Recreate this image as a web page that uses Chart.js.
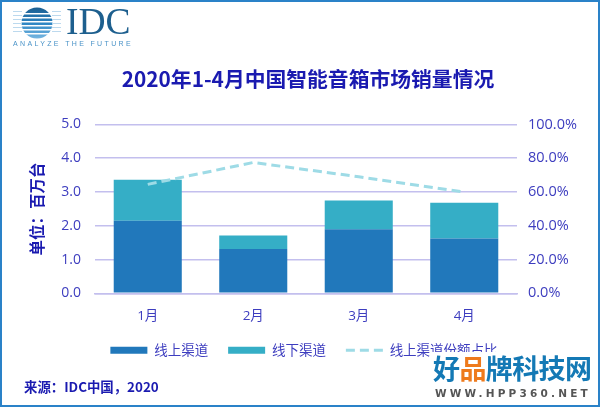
<!DOCTYPE html>
<html><head><meta charset="utf-8">
<style>html,body{margin:0;padding:0;background:#fff}#w{position:relative;width:600px;height:407px}</style>
<script src="https://cdn.jsdelivr.net/npm/chart.js@4"></script>
</head><body><div id="w"><canvas id="c" width="600" height="407"></canvas></div>
<script>
const categories = ['1月','2月','3月','4月'];
const online = [2.15,1.31,1.90,1.62];
const offline = [1.21,0.40,0.85,1.06];
const share = [64.5,77.5,69,60];
const seriesNames = ['线上渠道','线下渠道','线上渠道份额占比'];
const leftTicks = [0,1,2,3,4,5];
const titleText = '2020年1-4月中国智能音箱市场销量情况';
const yTitle = '单位：百万台';
const sourceText = '来源：IDC中国，2020';
const C1='#2178bb',C2='#35aec6',C3='#9edbe6',TXT='#3d3dbf',DARK='#1a1ab0',GRID='#c3bfee';
const FF='"Open Sans","Noto Sans CJK SC",sans-serif';
const CJK='"Noto Sans CJK SC",sans-serif';

const overlay={id:'overlay',
 afterLayout(ch){ch.legend.left-=4;ch.legend.right-=4;ch.legend.top-=8;ch.legend.bottom-=8;},
 afterDraw(ch){
  const x=ch.ctx;x.save();
  x.fillStyle=DARK;x.font='bold 13.4px '+CJK;x.textBaseline='middle';x.textAlign='left';
  x.fillText(sourceText,24,387);
  x.save();x.beginPath();x.arc(37,23,15.5,0,Math.PI*2);x.clip();
  const g=x.createLinearGradient(0,8,0,39);g.addColorStop(0,'#1c5f92');g.addColorStop(.5,'#2f86c4');g.addColorStop(1,'#79b8e2');
  x.fillStyle=g;x.fillRect(20,7,34,32);x.restore();
  x.fillStyle='#fff';[13,17,21,25,29,33].forEach(y=>x.fillRect(13,y,48,1.5));
  x.fillStyle='#bcd9ee';[11,15,19,23,27,31].forEach(y=>{x.fillRect(13,y,9,1);x.fillRect(52,y,9,1);});
  x.fillStyle='#1d5f8e';x.font='37.5px "Liberation Serif",serif';x.textBaseline='alphabetic';
  x.fillText('IDC',66,34);
  x.fillStyle='#4a93c8';x.font='7px "Liberation Sans",sans-serif';x.letterSpacing='2.35px';
  x.fillText('ANALYZE THE FUTURE',13,46);x.letterSpacing='0px';
  x.fillStyle='#fff';x.fillRect(430,352,168,53);
  x.font='bold 27px '+CJK;x.textBaseline='middle';x.textAlign='left';
  '好品牌科技网'.split('').forEach((s,i)=>{x.fillStyle=i===1?'#ee7a1c':'#1479b5';x.fillText(s,433+i*26.4,369);});
  x.fillStyle='#555';x.font='bold 10.5px "DejaVu Sans",sans-serif';x.letterSpacing='3.2px';
  x.fillText('WWW.HPP360.NET',435,394);x.letterSpacing='0px';
  x.strokeStyle='#2a82c8';x.lineWidth=2;x.strokeRect(1,1,598,405);
  x.restore();
}};

new Chart(document.getElementById('c'),{
  type:'bar',
  data:{labels:categories,datasets:[
    {label:seriesNames[0],data:online,backgroundColor:C1,stack:'s',yAxisID:'y',order:2,barPercentage:.645,categoryPercentage:1},
    {label:seriesNames[1],data:offline,backgroundColor:C2,stack:'s',yAxisID:'y',order:2,barPercentage:.645,categoryPercentage:1},
    {type:'line',label:seriesNames[2],data:share,borderColor:C3,borderWidth:3,borderDash:[9,5],pointRadius:0,tension:0,fill:false,yAxisID:'y1',order:1}
  ]},
  options:{
    responsive:false,animation:false,
    layout:{padding:{left:16,right:0,top:66.5,bottom:32}},
    plugins:{
      title:{display:true,text:titleText,color:DARK,font:{family:CJK,size:20.8,weight:'bold'},padding:{top:0,bottom:33}},
      legend:{position:'bottom',labels:{
        color:TXT,font:{family:CJK,size:13.5},usePointStyle:true,pointStyleWidth:37,boxHeight:7,padding:20,
        generateLabels(){return seriesNames.map((t,i)=>({text:t,fontColor:TXT,
          fillStyle:[C1,C2,C3][i],strokeStyle:[C1,C2,C3][i],lineWidth:i===2?3:0,
          lineDash:i===2?[9,5]:[],pointStyle:i===2?'line':'rect',datasetIndex:i}));}
      }},
      tooltip:{enabled:false}
    },
    scales:{
      x:{grid:{display:false},border:{color:GRID,width:1.5},
        ticks:{color:TXT,font:{family:FF,size:13.5},padding:7,maxRotation:0}},
      y:{position:'left',min:0,max:5,afterFit(s){s.width=79;},
        afterBuildTicks(s){s.ticks=leftTicks.map(v=>({value:v}));},
        title:{display:true,text:yTitle,color:DARK,font:{family:CJK,size:15.5,weight:'bold'},padding:{top:12,bottom:2}},
        grid:{color:GRID,lineWidth:1.5,drawTicks:false},border:{display:false},
        ticks:{color:TXT,font:{family:FF,size:14},padding:14,callback:v=>v.toFixed(1)}},
      y1:{position:'right',min:0,max:100,afterFit(s){s.width=83;},
        grid:{display:false},border:{display:false},
        ticks:{stepSize:20,color:TXT,font:{family:FF,size:14.5},padding:3,callback:v=>v.toFixed(1)+'%'}}
    }
  },
  plugins:[overlay]
});
</script></body></html>
